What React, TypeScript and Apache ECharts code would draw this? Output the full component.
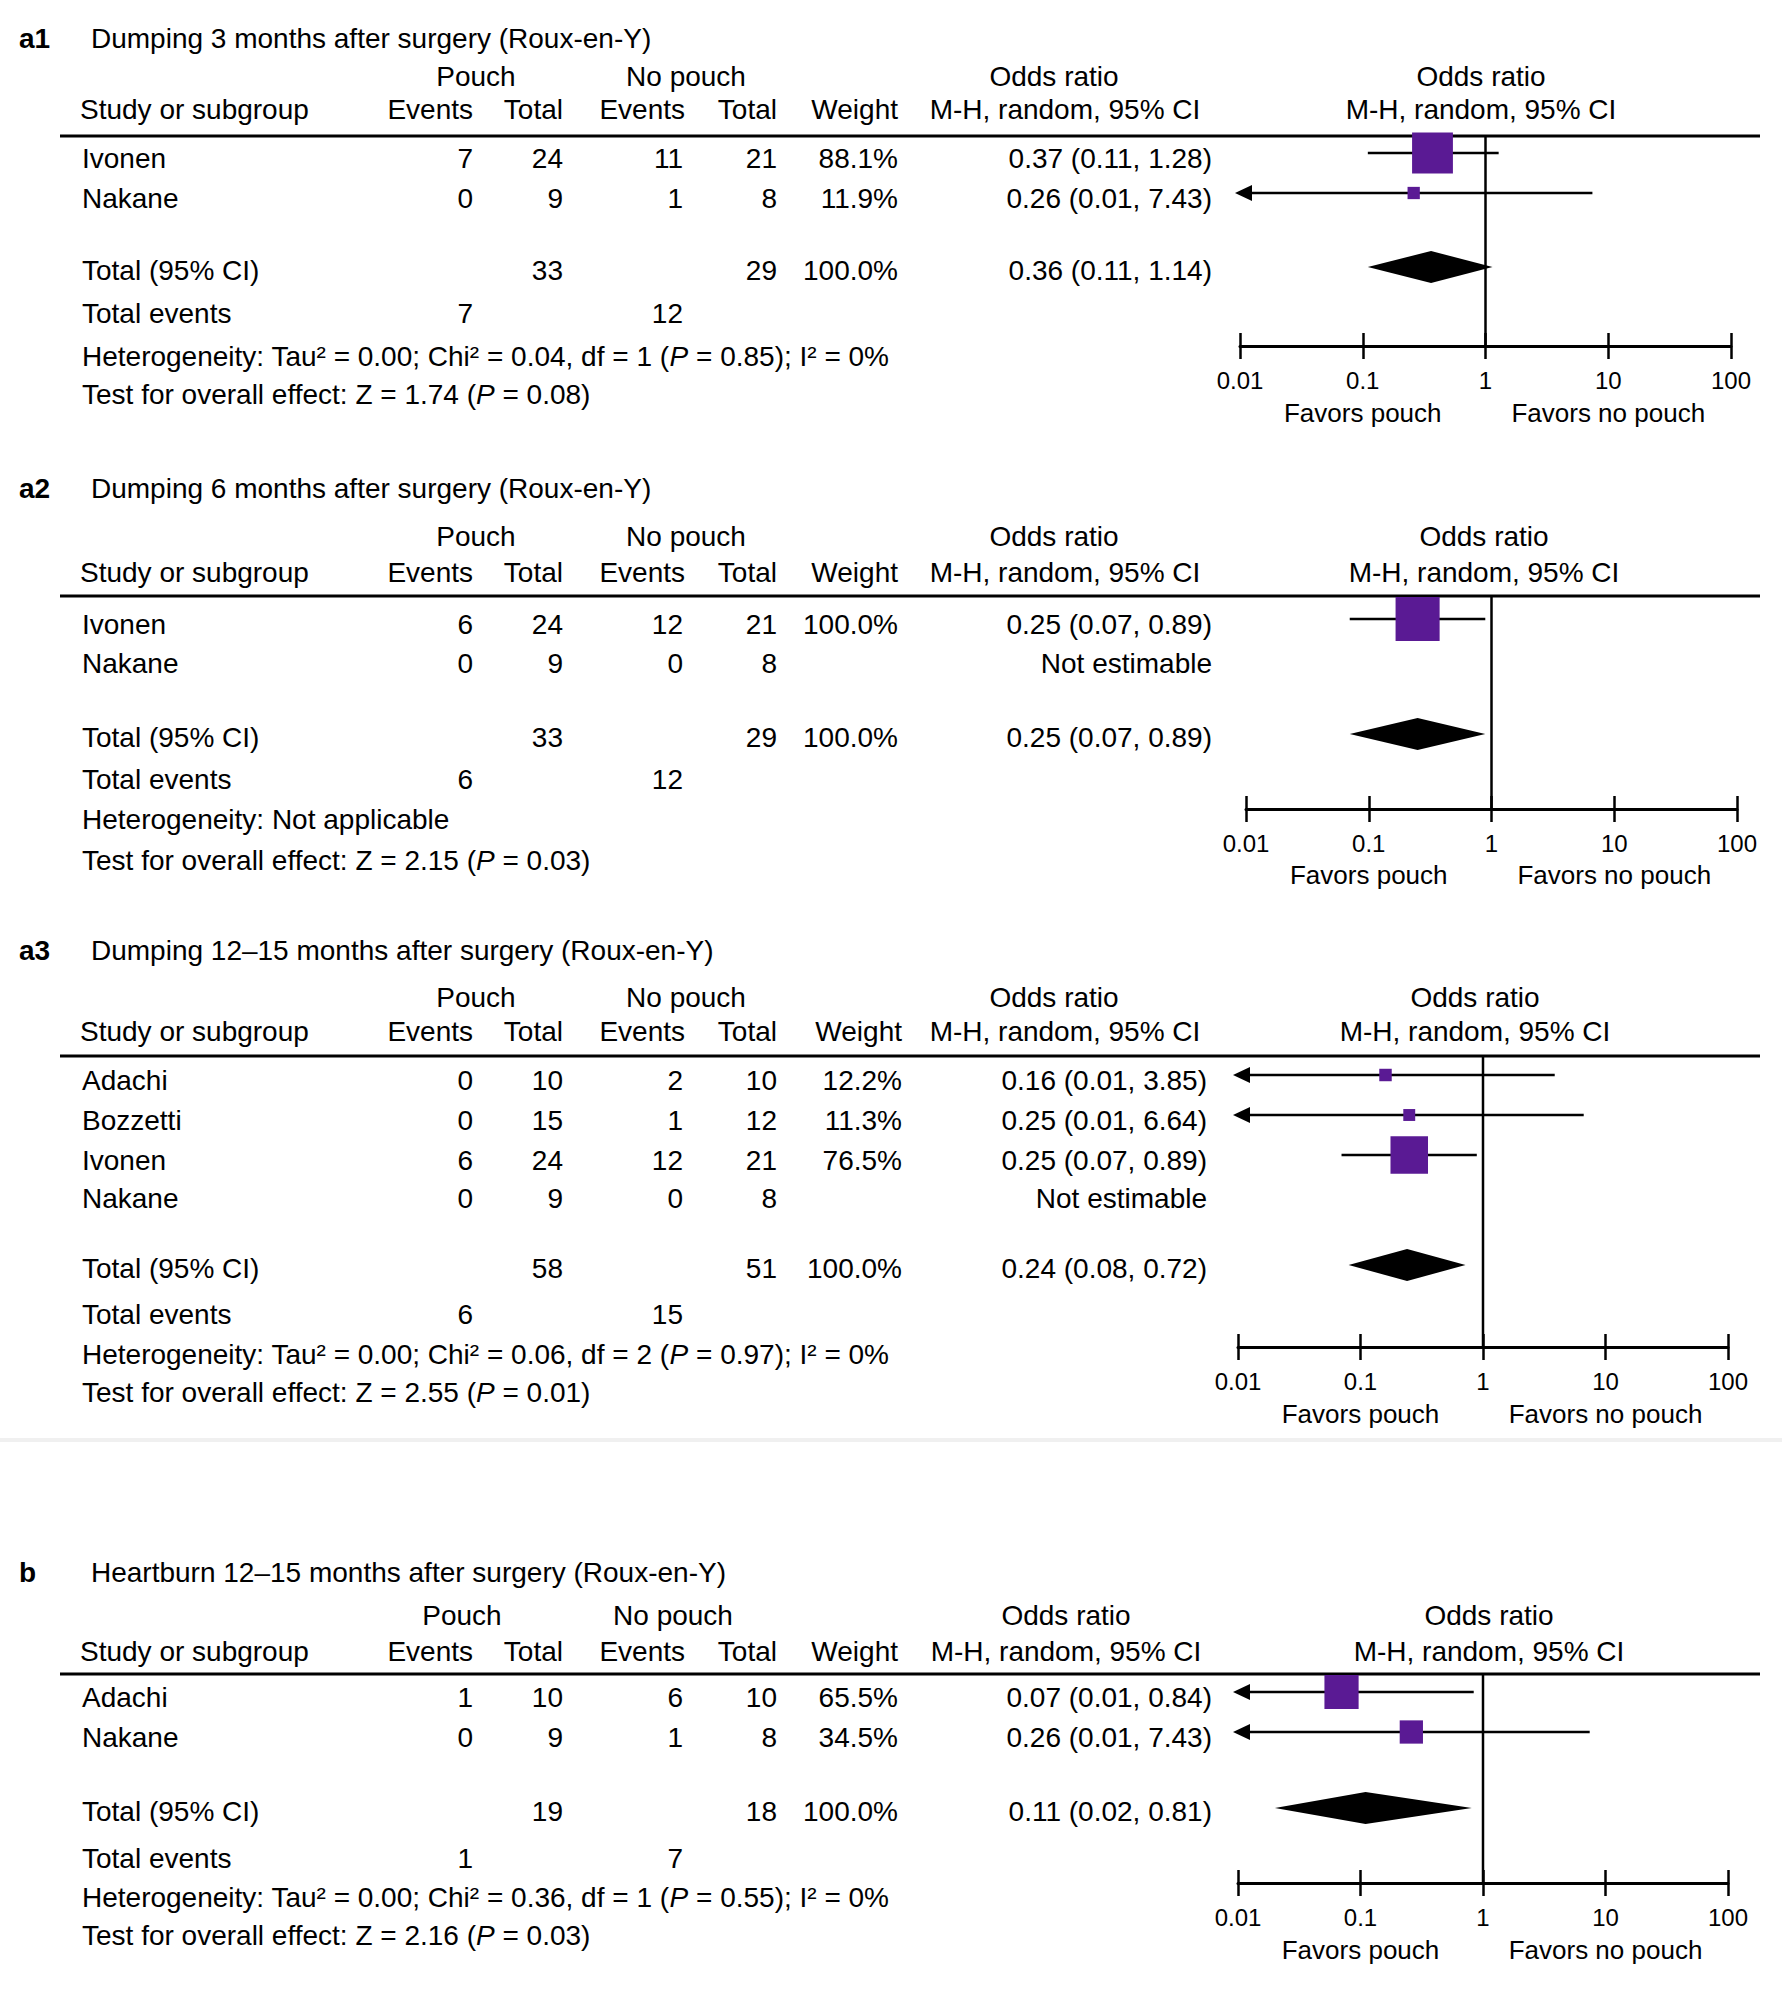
import React, { useEffect, useRef } from 'react';
import * as echarts from 'echarts';

// ---------- data ----------
const TICK_LABELS = ['0.01', '0.1', '1', '10', '100'];
const FAVORS = ['Favors pouch', 'Favors no pouch'];

// a1
const A1_TITLE = 'Dumping 3 months after surgery (Roux-en-Y)';
const A1_STUDIES = ['Ivonen', 'Nakane'];
const A1_POUCH_EVENTS = [7, 0];
const A1_POUCH_TOTAL = [24, 9];
const A1_NOPOUCH_EVENTS = [11, 1];
const A1_NOPOUCH_TOTAL = [21, 8];
const A1_WEIGHT = [88.1, 11.9];
const A1_OR = [0.37, 0.26];
const A1_LOW = [0.11, 0.01];
const A1_HIGH = [1.28, 7.43];
const A1_TOTALS = [33, 29];
const A1_TOTAL_EVENTS = [7, 12];
const A1_POOLED = [0.36, 0.11, 1.14];
const A1_HET = 'Heterogeneity: Tau² = 0.00; Chi² = 0.04, df = 1 ({i|P} = 0.85); I² = 0%';
const A1_TEST = 'Test for overall effect: Z = 1.74 ({i|P} = 0.08)';

// a2
const A2_TITLE = 'Dumping 6 months after surgery (Roux-en-Y)';
const A2_STUDIES = ['Ivonen', 'Nakane'];
const A2_POUCH_EVENTS = [6, 0];
const A2_POUCH_TOTAL = [24, 9];
const A2_NOPOUCH_EVENTS = [12, 0];
const A2_NOPOUCH_TOTAL = [21, 8];
const A2_WEIGHT = [100.0, null];
const A2_OR = [0.25, null];
const A2_LOW = [0.07, null];
const A2_HIGH = [0.89, null];
const A2_TOTALS = [33, 29];
const A2_TOTAL_EVENTS = [6, 12];
const A2_POOLED = [0.25, 0.07, 0.89];
const A2_HET = 'Heterogeneity: Not applicable';
const A2_TEST = 'Test for overall effect: Z = 2.15 ({i|P} = 0.03)';

// a3
const A3_TITLE = 'Dumping 12–15 months after surgery (Roux-en-Y)';
const A3_STUDIES = ['Adachi', 'Bozzetti', 'Ivonen', 'Nakane'];
const A3_POUCH_EVENTS = [0, 0, 6, 0];
const A3_POUCH_TOTAL = [10, 15, 24, 9];
const A3_NOPOUCH_EVENTS = [2, 1, 12, 0];
const A3_NOPOUCH_TOTAL = [10, 12, 21, 8];
const A3_WEIGHT = [12.2, 11.3, 76.5, null];
const A3_OR = [0.16, 0.25, 0.25, null];
const A3_LOW = [0.01, 0.01, 0.07, null];
const A3_HIGH = [3.85, 6.64, 0.89, null];
const A3_TOTALS = [58, 51];
const A3_TOTAL_EVENTS = [6, 15];
const A3_POOLED = [0.24, 0.08, 0.72];
const A3_HET = 'Heterogeneity: Tau² = 0.00; Chi² = 0.06, df = 2 ({i|P} = 0.97); I² = 0%';
const A3_TEST = 'Test for overall effect: Z = 2.55 ({i|P} = 0.01)';

// b
const B_TITLE = 'Heartburn 12–15 months after surgery (Roux-en-Y)';
const B_STUDIES = ['Adachi', 'Nakane'];
const B_POUCH_EVENTS = [1, 0];
const B_POUCH_TOTAL = [10, 9];
const B_NOPOUCH_EVENTS = [6, 1];
const B_NOPOUCH_TOTAL = [10, 8];
const B_WEIGHT = [65.5, 34.5];
const B_OR = [0.07, 0.26];
const B_LOW = [0.01, 0.01];
const B_HIGH = [0.84, 7.43];
const B_TOTALS = [19, 18];
const B_TOTAL_EVENTS = [1, 7];
const B_POOLED = [0.11, 0.02, 0.81];
const B_HET = 'Heterogeneity: Tau² = 0.00; Chi² = 0.36, df = 1 ({i|P} = 0.55); I² = 0%';
const B_TEST = 'Test for overall effect: Z = 2.16 ({i|P} = 0.03)';

// ---------- layout ----------
const FONT = '"Liberation Sans", Arial, Helvetica, sans-serif';
const FS = 28;
const FS_FAVORS = 26;
const PURPLE = '#5a1a94';

const LAYOUT = [
  { label: 'a1', title: 38, h1: 76, h2: 109, line: 136, rows: [158, 198], total: 270, events: 313, het: 356, test: 394, axis: 346, favors: 413, axL: 1240, axR: 1731, pouchCx: 476, noPouchCx: 686, orCx: 1054, mhCx: 1065, fCx: 1481, wX: 898, orX: 1212 },
  { label: 'a2', title: 488, h1: 536, h2: 572, line: 596, rows: [624, 663], total: 737, events: 779, het: 819, test: 860, axis: 809, favors: 875, axL: 1246, axR: 1737, pouchCx: 476, noPouchCx: 686, orCx: 1054, mhCx: 1065, fCx: 1484, wX: 898, orX: 1212 },
  { label: 'a3', title: 950, h1: 997, h2: 1031, line: 1056, rows: [1080, 1120, 1160, 1198], total: 1268, events: 1314, het: 1354, test: 1392, axis: 1347, favors: 1414, axL: 1238, axR: 1728, pouchCx: 476, noPouchCx: 686, orCx: 1054, mhCx: 1065, fCx: 1475, wX: 902, orX: 1207 },
  { label: 'b', title: 1572, h1: 1615, h2: 1651, line: 1674, rows: [1697, 1737], total: 1811, events: 1858, het: 1897, test: 1935, axis: 1883, favors: 1950, axL: 1238, axR: 1728, pouchCx: 462, noPouchCx: 673, orCx: 1066, mhCx: 1066, fCx: 1489, wX: 898, orX: 1212 },
];

const PANELS = [
  { title: A1_TITLE, studies: A1_STUDIES, pe: A1_POUCH_EVENTS, pt: A1_POUCH_TOTAL, ne: A1_NOPOUCH_EVENTS, nt: A1_NOPOUCH_TOTAL, w: A1_WEIGHT, or: A1_OR, lo: A1_LOW, hi: A1_HIGH, totals: A1_TOTALS, tev: A1_TOTAL_EVENTS, pooled: A1_POOLED, het: A1_HET, test: A1_TEST },
  { title: A2_TITLE, studies: A2_STUDIES, pe: A2_POUCH_EVENTS, pt: A2_POUCH_TOTAL, ne: A2_NOPOUCH_EVENTS, nt: A2_NOPOUCH_TOTAL, w: A2_WEIGHT, or: A2_OR, lo: A2_LOW, hi: A2_HIGH, totals: A2_TOTALS, tev: A2_TOTAL_EVENTS, pooled: A2_POOLED, het: A2_HET, test: A2_TEST },
  { title: A3_TITLE, studies: A3_STUDIES, pe: A3_POUCH_EVENTS, pt: A3_POUCH_TOTAL, ne: A3_NOPOUCH_EVENTS, nt: A3_NOPOUCH_TOTAL, w: A3_WEIGHT, or: A3_OR, lo: A3_LOW, hi: A3_HIGH, totals: A3_TOTALS, tev: A3_TOTAL_EVENTS, pooled: A3_POOLED, het: A3_HET, test: A3_TEST },
  { title: B_TITLE, studies: B_STUDIES, pe: B_POUCH_EVENTS, pt: B_POUCH_TOTAL, ne: B_NOPOUCH_EVENTS, nt: B_NOPOUCH_TOTAL, w: B_WEIGHT, or: B_OR, lo: B_LOW, hi: B_HIGH, totals: B_TOTALS, tev: B_TOTAL_EVENTS, pooled: B_POOLED, het: B_HET, test: B_TEST },
];

const COL = { evX: 473, totX: 563, npEvX: 683, npTotX: 777 };

function fmtCI(o: number, l: number, h: number) {
  return `${o.toFixed(2)} (${l.toFixed(2)}, ${h.toFixed(2)})`;
}

function txt(x: number, y: number, text: string, align = 'left', extra: any = {}) {
  const fs = extra.fontSize ?? FS;
  return {
    type: 'text',
    x,
    y,
    silent: true,
    style: {
      text,
      fill: '#000',
      fontSize: fs,
      fontFamily: FONT,
      align,
      verticalAlign: 'middle',
      rich: { i: { fontStyle: 'italic', fontSize: fs, fontFamily: FONT, fill: '#000' } },
      ...extra,
    },
  };
}

function buildOption() {
  const graphic: any[] = [];
  const grid: any[] = [];
  const xAxis: any[] = [];
  const yAxis: any[] = [];
  const series: any[] = [];

  PANELS.forEach((p, i) => {
    const L = LAYOUT[i];
    // headings
    graphic.push(txt(19, L.title, L.label, 'left', { fontWeight: 'bold' }));
    graphic.push(txt(91, L.title, p.title));
    graphic.push(txt(L.pouchCx, L.h1, 'Pouch', 'center'));
    graphic.push(txt(L.noPouchCx, L.h1, 'No pouch', 'center'));
    graphic.push(txt(L.orCx, L.h1, 'Odds ratio', 'center'));
    graphic.push(txt(L.fCx, L.h1, 'Odds ratio', 'center'));
    graphic.push(txt(80, L.h2, 'Study or subgroup'));
    graphic.push(txt(COL.evX, L.h2, 'Events', 'right'));
    graphic.push(txt(COL.totX, L.h2, 'Total', 'right'));
    graphic.push(txt(COL.npEvX + 2, L.h2, 'Events', 'right'));
    graphic.push(txt(COL.npTotX, L.h2, 'Total', 'right'));
    graphic.push(txt(L.wX, L.h2, 'Weight', 'right'));
    graphic.push(txt(L.mhCx, L.h2, 'M-H, random, 95% CI', 'center'));
    graphic.push(txt(L.fCx, L.h2, 'M-H, random, 95% CI', 'center'));
    graphic.push({
      type: 'line',
      silent: true,
      shape: { x1: 60, y1: L.line, x2: 1760, y2: L.line },
      style: { stroke: '#000', lineWidth: 3 },
    });

    // study rows
    p.studies.forEach((s, k) => {
      const y = L.rows[k];
      graphic.push(txt(82, y, s));
      graphic.push(txt(COL.evX, y, String(p.pe[k]), 'right'));
      graphic.push(txt(COL.totX, y, String(p.pt[k]), 'right'));
      graphic.push(txt(COL.npEvX, y, String(p.ne[k]), 'right'));
      graphic.push(txt(COL.npTotX, y, String(p.nt[k]), 'right'));
      if (p.w[k] != null) graphic.push(txt(L.wX, y, `${(p.w[k] as number).toFixed(1)}%`, 'right'));
      if (p.or[k] != null) {
        graphic.push(txt(L.orX, y, fmtCI(p.or[k] as number, p.lo[k] as number, p.hi[k] as number), 'right'));
      } else {
        graphic.push(txt(L.orX, y, 'Not estimable', 'right'));
      }
    });

    // totals
    graphic.push(txt(82, L.total, 'Total (95% CI)'));
    graphic.push(txt(COL.totX, L.total, String(p.totals[0]), 'right'));
    graphic.push(txt(COL.npTotX, L.total, String(p.totals[1]), 'right'));
    graphic.push(txt(L.wX, L.total, '100.0%', 'right'));
    graphic.push(txt(L.orX, L.total, fmtCI(p.pooled[0], p.pooled[1], p.pooled[2]), 'right'));
    graphic.push(txt(82, L.events, 'Total events'));
    graphic.push(txt(COL.evX, L.events, String(p.tev[0]), 'right'));
    graphic.push(txt(COL.npEvX, L.events, String(p.tev[1]), 'right'));
    graphic.push(txt(82, L.het, p.het));
    graphic.push(txt(82, L.test, p.test));

    // favors
    const axW = L.axR - L.axL;
    graphic.push(txt(L.axL + axW * 0.25, L.favors, FAVORS[0], 'center', { fontSize: FS_FAVORS }));
    graphic.push(txt(L.axL + axW * 0.75, L.favors, FAVORS[1], 'center', { fontSize: FS_FAVORS }));

    // forest plot coordinate system
    grid.push({ left: L.axL, width: axW, top: L.line, height: L.axis - L.line });
    const baseAxis = {
      type: 'log',
      logBase: 10,
      min: 0.01,
      max: 100,
      splitNumber: 4,
      gridIndex: i,
      position: 'bottom',
      offset: 0,
      splitLine: { show: false },
      minorTick: { show: false },
    };
    xAxis.push({
      ...baseAxis,
      axisLine: { show: true, onZero: false, lineStyle: { color: '#000', width: 3 } },
      axisTick: { show: true, inside: false, length: 13, lineStyle: { color: '#000', width: 2.5 } },
      axisLabel: {
        show: true,
        margin: 22,
        color: '#000',
        fontSize: 24,
        fontFamily: FONT,
        formatter: (v: number) => TICK_LABELS[Math.round(Math.log10(v)) + 2] ?? '',
      },
    });
    xAxis.push({
      ...baseAxis,
      axisLine: { show: false, onZero: false },
      axisTick: { show: true, inside: true, length: 13, lineStyle: { color: '#000', width: 2.5 } },
      axisLabel: { show: false },
    });
    yAxis.push({ type: 'value', gridIndex: i, min: 0, max: L.axis - L.line, inverse: true, show: false });

    // line of no effect
    series.push({
      type: 'custom',
      xAxisIndex: 2 * i,
      yAxisIndex: i,
      silent: true,
      z: 1,
      data: [[1, 0]],
      renderItem: (params: any, api: any) => {
        const cs = params.coordSys;
        const x = api.coord([1, 1])[0];
        return {
          type: 'line',
          shape: { x1: x, y1: cs.y, x2: x, y2: cs.y + cs.height },
          style: { stroke: '#000', lineWidth: 2.5 },
        };
      },
    });

    // studies
    const studyData: any[] = [];
    p.studies.forEach((s, k) => {
      if (p.or[k] == null) return;
      const w = p.w[k] as number;
      studyData.push([
        p.or[k],
        p.lo[k],
        p.hi[k],
        L.rows[k] - 5 - L.line,
        2.78 * Math.pow(w, 0.6),
        (p.lo[k] as number) <= 0.01 ? 1 : 0,
      ]);
    });
    series.push({
      type: 'custom',
      xAxisIndex: 2 * i,
      yAxisIndex: i,
      silent: true,
      clip: false,
      z: 3,
      encode: { x: [0, 1, 2], y: 3 },
      data: studyData,
      renderItem: (params: any, api: any) => {
        const y = api.value(3);
        const pc = api.coord([api.value(0), y]);
        const pl = api.coord([api.value(1), y]);
        const ph = api.coord([api.value(2), y]);
        const sz = api.value(4);
        const children: any[] = [
          { type: 'line', shape: { x1: pl[0], y1: pl[1], x2: ph[0], y2: ph[1] }, style: { stroke: '#000', lineWidth: 2.5 } },
        ];
        if (api.value(5)) {
          children.push({
            type: 'polygon',
            shape: { points: [[pl[0] - 5, pl[1]], [pl[0] + 12, pl[1] - 8], [pl[0] + 12, pl[1] + 8]] },
            style: { fill: '#000' },
          });
        }
        children.push({
          type: 'rect',
          shape: { x: pc[0] - sz / 2, y: pc[1] - sz / 2, width: sz, height: sz },
          style: { fill: PURPLE },
        });
        return { type: 'group', children };
      },
    });

    // pooled diamond
    series.push({
      type: 'custom',
      xAxisIndex: 2 * i,
      yAxisIndex: i,
      silent: true,
      clip: false,
      z: 3,
      encode: { x: [0, 1, 2], y: 3 },
      data: [[p.pooled[0], p.pooled[1], p.pooled[2], L.total - 3 - L.line]],
      renderItem: (params: any, api: any) => {
        const y = api.value(3);
        const pc = api.coord([api.value(0), y]);
        const pl = api.coord([api.value(1), y]);
        const ph = api.coord([api.value(2), y]);
        const hh = 16;
        return {
          type: 'polygon',
          shape: { points: [[pl[0], pl[1]], [pc[0], pc[1] - hh], [ph[0], ph[1]], [pc[0], pc[1] + hh]] },
          style: { fill: '#000' },
        };
      },
    });
  });

  // faint separator band between panel groups
  graphic.push({
    type: 'line',
    silent: true,
    shape: { x1: 0, y1: 1440, x2: 1782, y2: 1440 },
    style: { stroke: '#f0f0f0', lineWidth: 4 },
  });

  return {
    animation: false,
    backgroundColor: '#ffffff',
    grid,
    xAxis,
    yAxis,
    series,
    graphic: { elements: graphic },
  };
}

export default function App() {
  const ref = useRef<HTMLDivElement>(null);
  useEffect(() => {
    if (!ref.current) return;
    const chart = echarts.init(ref.current, null, { renderer: 'svg' });
    chart.setOption(buildOption() as any);
    return () => chart.dispose();
  }, []);
  return (
    <div
      ref={ref}
      style={{ position: 'absolute', left: 0, top: 0, width: 1782, height: 1989, background: '#fff' }}
    />
  );
}
